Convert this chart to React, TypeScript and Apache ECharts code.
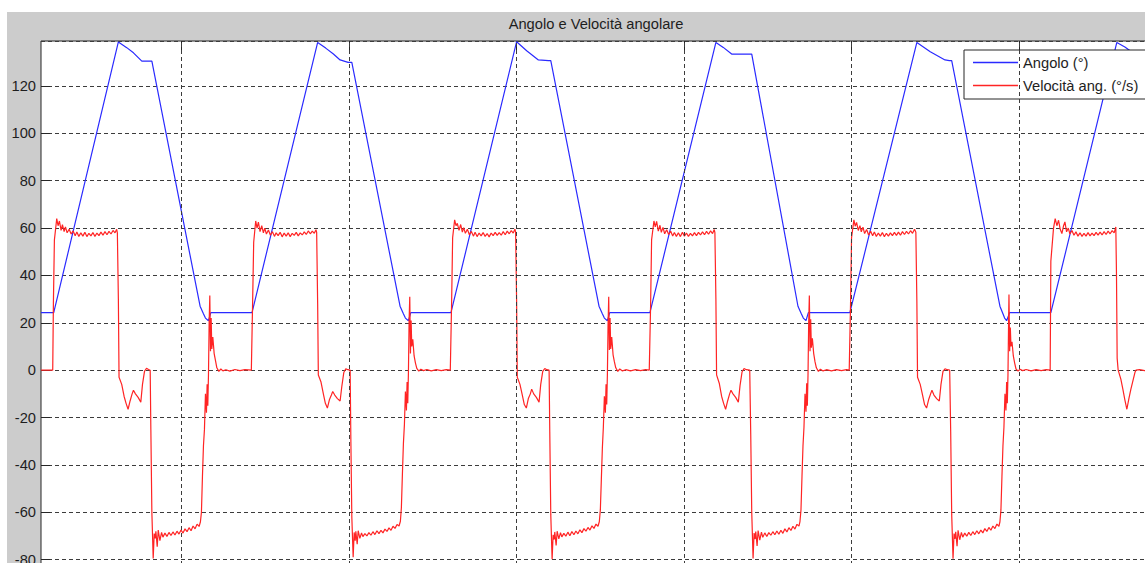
import { useEffect, useRef } from "react";
import * as echarts from "echarts";

const TITOLO = "Angolo e Velocità angolare";
const NOME_ANGOLO = "Angolo (°)";
const NOME_VELOCITA = "Velocità ang. (°/s)";

// Asse dei tempi [s] e griglia verticale
const T_MIN = 0.8;
const T_MAX = 34.0;
const GRIGLIA_T = [5, 10, 15, 20, 25, 30];

// Asse verticale
const Y_MIN = -100;
const Y_MAX = 139;
const Y_PASSO = 20;

// Angolo [°] nel tempo
const angolo: [number, number][] = [
  [0.8, 24.3], [1.18, 24.3], [3.11, 138.6], [3.36, 136.2], [3.56, 134], [3.81, 130.5], [4.11, 130.5],
  [5.55, 27], [5.65, 23.8], [5.71, 22], [5.8, 20.9], [5.87, 24.3],
  [7.1, 24.3], [9.06, 138.4], [9.3, 136], [9.53, 133.5], [9.73, 131], [9.97, 130], [10.08, 130],
  [11.52, 27], [11.62, 23.8], [11.68, 22], [11.77, 20.9], [11.84, 24.3],
  [13.04, 24.3], [15.0, 138.7], [15.3, 134.9], [15.65, 131], [15.95, 130.7], [16.02, 130.7],
  [17.46, 27], [17.56, 23.8], [17.62, 22], [17.71, 20.9], [17.78, 24.3],
  [18.98, 24.3], [20.95, 138.4], [21.17, 136.3], [21.42, 133.5], [21.95, 133.5], [22.02, 133.5],
  [23.4, 27], [23.5, 23.8], [23.56, 22], [23.64, 20.9], [23.71, 24.3],
  [24.95, 24.3], [26.95, 138.4], [27.35, 134.5], [27.79, 131], [27.92, 130.7], [27.99, 130.7],
  [29.43, 27], [29.52, 23.8], [29.57, 22], [29.63, 20.9], [29.72, 24.3],
  [30.95, 24.3], [32.92, 138.4], [33.16, 136.5], [33.4, 134], [33.64, 131], [33.94, 130.5], [34.0, 130.5],
];

// Velocità angolare [°/s], un ciclo per array
const velCiclo1: [number, number][] = [
  [0.8, 0], [1.15, 0], [1.17, 28], [1.2, 55], [1.27, 64], [1.31, 61], [1.35, 63], [1.4, 59], [1.44, 61.5],
  [1.49, 58.5], [1.53, 60.5], [1.58, 58], [1.64, 59.5], [1.7, 57.5], [1.76, 58.8], [1.82, 56.8], [1.87, 58.3],
  [1.93, 56.5], [1.99, 58], [2.05, 56.6], [2.11, 58.2], [2.17, 56.4], [2.23, 57.8], [2.29, 56.7], [2.35, 58.1],
  [2.41, 56.5], [2.47, 57.9], [2.53, 56.8], [2.59, 58.3], [2.65, 57], [2.71, 58.5], [2.77, 57.2], [2.83, 58.6],
  [2.89, 57.5], [2.95, 59], [3.01, 58], [3.06, 59.5], [3.08, 58], [3.11, 30], [3.13, -3], [3.21, -6],
  [3.28, -11], [3.34, -14], [3.4, -16.5], [3.46, -13], [3.52, -10], [3.56, -8.5], [3.62, -10], [3.7, -11.5],
  [3.78, -13.5], [3.83, -6], [3.89, -0.5], [3.95, 0.8], [4.01, 0.3], [4.06, 0], [4.08, -25], [4.11, -60],
  [4.15, -79.5], [4.18, -69], [4.21, -71], [4.23, -68], [4.27, -74.5], [4.3, -67.5], [4.35, -72], [4.4, -68.5],
  [4.44, -70.5], [4.5, -68.8], [4.56, -70.2], [4.62, -68.5], [4.68, -69.8], [4.74, -68.3], [4.8, -69.6],
  [4.86, -68], [4.92, -69.2], [4.98, -67.5], [5.04, -68.8], [5.1, -67], [5.16, -68.2], [5.22, -66.5],
  [5.28, -67.8], [5.34, -65.8], [5.4, -67], [5.46, -65], [5.52, -66], [5.56, -64], [5.59, -60], [5.62, -45],
  [5.65, -32], [5.68, -25], [5.71, -10], [5.74, -18], [5.76, -6], [5.78, -15], [5.8, -2], [5.82, 20],
  [5.84, 31.5], [5.86, 8], [5.88, 22], [5.9, 9], [5.93, 14], [5.97, 7], [6.01, 4], [6.05, 1], [6.11, -0.5],
  [6.17, 0.5], [6.23, -0.3], [6.32, 0.2], [6.44, -0.4], [6.59, 0.3], [6.74, -0.2], [6.89, 0.2], [7.08, 0],
];

const velCiclo2: [number, number][] = [
  [7.1, 0], [7.12, 30], [7.15, 54], [7.21, 63], [7.25, 60], [7.29, 62.5], [7.34, 58.5], [7.39, 61], [7.44, 58],
  [7.48, 60], [7.53, 57.5], [7.59, 59.2], [7.65, 57], [7.71, 58.5], [7.77, 56.5], [7.82, 58], [7.88, 56.8],
  [7.94, 58.2], [8.0, 56.3], [8.06, 57.9], [8.12, 56.6], [8.18, 58], [8.24, 56.4], [8.3, 57.8], [8.36, 56.9],
  [8.42, 58.2], [8.48, 56.7], [8.54, 58], [8.6, 57.1], [8.66, 58.4], [8.72, 57.3], [8.78, 58.8], [8.84, 57.6],
  [8.9, 58.7], [8.96, 57.8], [9.01, 59.3], [9.03, 58.2], [9.06, 28], [9.08, -2], [9.16, -5], [9.23, -10],
  [9.29, -14], [9.35, -16], [9.41, -12.5], [9.47, -10.5], [9.51, -9], [9.57, -10.5], [9.65, -12], [9.73, -13],
  [9.78, -7], [9.84, -1], [9.9, 0.6], [9.96, 0.2], [10.03, 0], [10.05, -28], [10.08, -62], [10.12, -79],
  [10.15, -68.5], [10.18, -72], [10.2, -68], [10.24, -73.5], [10.27, -67.8], [10.32, -71], [10.37, -68.7],
  [10.41, -70.3], [10.47, -69], [10.53, -70], [10.59, -68.6], [10.65, -69.7], [10.71, -68.2], [10.77, -69.4],
  [10.83, -67.8], [10.89, -69], [10.95, -67.6], [11.01, -68.7], [11.07, -67.1], [11.13, -68.1], [11.19, -66.6],
  [11.25, -67.6], [11.31, -65.9], [11.37, -66.8], [11.43, -65.2], [11.49, -65.8], [11.53, -63.8], [11.56, -58],
  [11.59, -44], [11.62, -31], [11.65, -23], [11.68, -9], [11.71, -17], [11.73, -5], [11.75, -14], [11.77, -1],
  [11.79, 21], [11.81, 31], [11.83, 7], [11.85, 21], [11.87, 10], [11.9, 13], [11.94, 6], [11.98, 3],
  [12.02, 0.8], [12.08, -0.4], [12.14, 0.4], [12.22, -0.2], [12.32, 0.3], [12.45, -0.3], [12.6, 0.2],
  [12.75, -0.2], [12.9, 0.2], [13.02, 0],
];

const velCiclo3: [number, number][] = [
  [13.04, 0], [13.06, 29], [13.09, 56], [13.15, 63.5], [13.19, 61], [13.23, 62], [13.28, 59], [13.33, 61.5],
  [13.38, 58.3], [13.42, 60.2], [13.47, 57.8], [13.53, 59.5], [13.59, 57.2], [13.65, 58.6], [13.71, 56.6],
  [13.76, 58.2], [13.82, 56.4], [13.88, 57.9], [13.94, 56.7], [14.0, 58.1], [14.06, 56.5], [14.12, 57.7],
  [14.18, 56.3], [14.24, 57.9], [14.3, 56.8], [14.36, 58.2], [14.42, 56.9], [14.48, 58.1], [14.54, 57],
  [14.6, 58.5], [14.66, 57.2], [14.72, 58.7], [14.78, 57.6], [14.84, 58.9], [14.9, 57.9], [14.95, 59.6],
  [14.97, 58.3], [15.0, 29], [15.02, -3], [15.1, -6], [15.17, -10.5], [15.23, -14.5], [15.29, -16], [15.35, -12],
  [15.41, -10], [15.45, -8], [15.51, -10], [15.59, -11.5], [15.67, -13.5], [15.72, -6], [15.78, -0.5],
  [15.84, 0.7], [15.9, 0.2], [15.97, 0], [15.99, -26], [16.02, -61], [16.06, -79.8], [16.09, -69.5],
  [16.12, -71.5], [16.14, -68.3], [16.18, -74], [16.21, -68], [16.26, -71.2], [16.31, -68.6], [16.35, -70.4],
  [16.41, -68.9], [16.47, -70.1], [16.53, -68.4], [16.59, -69.9], [16.65, -68.1], [16.71, -69.5], [16.77, -67.9],
  [16.83, -69.1], [16.89, -67.4], [16.95, -68.6], [17.01, -66.9], [17.07, -68], [17.13, -66.4], [17.19, -67.5],
  [17.25, -65.7], [17.31, -66.8], [17.37, -65], [17.43, -65.9], [17.47, -63.9], [17.5, -59], [17.53, -46],
  [17.56, -33], [17.59, -24], [17.62, -11], [17.65, -18], [17.67, -6], [17.69, -14.5], [17.71, -2], [17.73, 19],
  [17.75, 31], [17.77, 8.5], [17.79, 22], [17.81, 9], [17.84, 14], [17.88, 6.5], [17.92, 3.5], [17.96, 1],
  [18.02, -0.5], [18.08, 0.5], [18.16, -0.3], [18.26, 0.2], [18.4, -0.3], [18.55, 0.2], [18.7, -0.2],
  [18.85, 0.2], [18.96, 0],
];

const velCiclo4: [number, number][] = [
  [18.98, 0], [19.0, 27], [19.03, 55], [19.1, 63], [19.14, 60.5], [19.18, 62.8], [19.23, 58.7], [19.28, 61.2],
  [19.32, 58.2], [19.37, 60.3], [19.42, 57.6], [19.48, 59.3], [19.54, 57.3], [19.6, 58.7], [19.66, 56.7],
  [19.71, 58.1], [19.77, 56.5], [19.83, 58], [19.89, 56.4], [19.95, 58.2], [20.01, 56.6], [20.07, 57.9],
  [20.13, 56.5], [20.19, 57.8], [20.25, 56.7], [20.31, 58.1], [20.37, 56.8], [20.43, 58.2], [20.49, 57.1],
  [20.55, 58.4], [20.61, 57.2], [20.67, 58.6], [20.73, 57.4], [20.79, 58.8], [20.85, 57.7], [20.9, 59.4],
  [20.92, 58.1], [20.95, 30], [20.97, -2], [21.05, -5.5], [21.12, -11], [21.18, -14], [21.24, -16.5],
  [21.3, -13], [21.36, -10], [21.4, -8.5], [21.46, -10], [21.54, -11.5], [21.62, -13.5], [21.67, -6.5],
  [21.73, -0.8], [21.79, 0.7], [21.86, 0.2], [21.96, 0], [21.99, -27], [22.02, -60], [22.06, -79.5],
  [22.09, -68.8], [22.12, -71.3], [22.14, -68.1], [22.18, -74.2], [22.21, -67.7], [22.26, -71.8], [22.31, -68.4],
  [22.35, -70.6], [22.41, -68.7], [22.47, -70.2], [22.53, -68.6], [22.59, -69.7], [22.65, -68.2], [22.71, -69.5],
  [22.77, -67.9], [22.83, -69.3], [22.89, -67.6], [22.95, -68.9], [23.01, -67], [23.07, -68.3], [23.13, -66.5],
  [23.19, -67.7], [23.25, -65.9], [23.31, -67.1], [23.37, -65.1], [23.43, -65.8], [23.46, -63.9], [23.49, -59],
  [23.52, -45], [23.55, -32], [23.58, -24], [23.61, -10], [23.64, -17.5], [23.66, -5.5], [23.68, -15],
  [23.7, -2], [23.72, 20], [23.74, 31.5], [23.76, 8], [23.78, 21.5], [23.8, 9.5], [23.83, 13.5], [23.87, 7],
  [23.91, 3.5], [23.95, 1], [24.01, -0.5], [24.07, 0.4], [24.15, -0.3], [24.25, 0.2], [24.4, -0.3],
  [24.55, 0.2], [24.7, -0.2], [24.85, 0.2], [24.93, 0],
];

const velCiclo5: [number, number][] = [
  [24.95, 0], [24.97, 28], [25.0, 56], [25.07, 63.5], [25.11, 60.8], [25.15, 62.4], [25.2, 59], [25.25, 61],
  [25.29, 58.4], [25.34, 60.4], [25.39, 57.7], [25.45, 59.4], [25.51, 57.1], [25.57, 58.7], [25.63, 56.8],
  [25.68, 58.3], [25.74, 56.5], [25.8, 57.9], [25.86, 56.6], [25.92, 58.1], [25.98, 56.4], [26.04, 57.8],
  [26.1, 56.6], [26.16, 58], [26.22, 56.8], [26.28, 58.2], [26.34, 56.9], [26.4, 58.3], [26.46, 57],
  [26.52, 58.5], [26.58, 57.3], [26.64, 58.6], [26.7, 57.5], [26.76, 58.9], [26.82, 57.8], [26.88, 59.5],
  [26.92, 58.2], [26.95, 29], [26.97, -3], [27.05, -6], [27.12, -10.5], [27.18, -14.5], [27.24, -16],
  [27.3, -12.5], [27.36, -10], [27.4, -8.5], [27.46, -10.5], [27.54, -12], [27.62, -13], [27.67, -6],
  [27.73, -0.5], [27.79, 0.6], [27.86, 0.2], [27.93, 0], [27.96, -26], [27.99, -61], [28.03, -79.6],
  [28.06, -69], [28.09, -71.2], [28.11, -68.2], [28.15, -74.3], [28.18, -67.6], [28.23, -71.6], [28.28, -68.5],
  [28.32, -70.5], [28.38, -68.8], [28.44, -70.1], [28.5, -68.5], [28.56, -69.8], [28.62, -68.2], [28.68, -69.4],
  [28.74, -67.8], [28.8, -69.1], [28.86, -67.5], [28.92, -68.7], [28.98, -66.9], [29.04, -68.1], [29.1, -66.4],
  [29.16, -67.6], [29.22, -65.8], [29.28, -66.9], [29.34, -65], [29.4, -65.9], [29.43, -64], [29.46, -59],
  [29.49, -45], [29.52, -32], [29.55, -24], [29.58, -10], [29.61, -17], [29.63, -5], [29.65, -14], [29.67, -2],
  [29.69, 22], [29.7, 32], [29.72, 8], [29.74, 18], [29.76, 10], [29.79, 12], [29.83, 6], [29.87, 3],
  [29.91, 0.5], [29.97, -0.4], [30.03, 0.4], [30.11, -0.2], [30.21, 0.3], [30.36, -0.3], [30.51, 0.2],
  [30.66, -0.2], [30.81, 0.2], [30.93, 0],
];

const velCiclo6: [number, number][] = [
  [30.95, 46], [31.03, 60], [31.08, 64], [31.13, 61], [31.18, 63.3], [31.23, 59.5], [31.28, 57.7], [31.33, 61],
  [31.37, 62.6], [31.42, 58.4], [31.47, 60], [31.52, 57.5], [31.58, 59], [31.64, 57], [31.7, 58.4], [31.76, 56.6],
  [31.82, 58], [31.88, 56.5], [31.94, 57.8], [32.0, 56.6], [32.06, 58.1], [32.12, 56.7], [32.18, 57.9],
  [32.24, 56.8], [32.3, 58.2], [32.36, 57], [32.42, 58.3], [32.48, 57.1], [32.54, 58.5], [32.6, 57.3],
  [32.66, 58.7], [32.72, 57.6], [32.78, 58.9], [32.84, 58], [32.89, 60.5], [32.91, 40], [32.93, 5], [32.96, 0],
  [33.04, -3.8], [33.1, -8], [33.16, -12.5], [33.22, -16.5], [33.28, -12], [33.34, -8], [33.4, -4.5],
  [33.46, -1], [33.49, 0], [33.6, 0.2], [33.75, -0.2], [33.9, 0.1], [34.0, 0],
];

const velocita = [...velCiclo1, ...velCiclo2, ...velCiclo3, ...velCiclo4, ...velCiclo5, ...velCiclo6];

const FONT = "'Liberation Sans', Arial, Helvetica, sans-serif";
const INK = "#1e1e1e";
const BLU = "#2a2aff";
const ROSSO = "#ff2424";
const GRID_DASH = { color: "#3c3c3c", width: 1, type: [4, 3] as number[] };

export default function App() {
  const ref = useRef<HTMLDivElement>(null);

  useEffect(() => {
    if (!ref.current) return;
    const chart = echarts.init(ref.current, undefined, { renderer: "svg" });
    chart.setOption({
      animation: false,
      backgroundColor: "#cccccc",
      graphic: [
        { type: "rect", shape: { x: 0, y: 0, width: 1153, height: 12 }, style: { fill: "#ffffff" }, silent: true },
        { type: "rect", shape: { x: 0, y: 0, width: 7, height: 620 }, style: { fill: "#ffffff" }, silent: true },
        {
          type: "text",
          x: 596,
          y: 24,
          silent: true,
          style: {
            text: TITOLO,
            fill: INK,
            font: `14.7px ${FONT}`,
            textAlign: "center",
            textVerticalAlign: "middle",
          },
        },
      ],
      grid: {
        left: 41,
        top: 41,
        right: 0,
        bottom: 13,
        show: true,
        backgroundColor: "#ffffff",
        borderColor: "#262626",
        borderWidth: 1,
      },
      legend: {
        orient: "vertical",
        left: 964,
        top: 50,
        backgroundColor: "#ffffff",
        borderColor: "#262626",
        borderWidth: 1,
        borderRadius: 0,
        padding: [5, 8, 6, 9],
        itemWidth: 45,
        itemHeight: 1.3,
        itemGap: 8,
        textStyle: { fontFamily: FONT, fontSize: 14.7, color: INK, lineHeight: 14 },
        data: [
          { name: NOME_ANGOLO, icon: "rect", itemStyle: { color: BLU } },
          { name: NOME_VELOCITA, icon: "rect", itemStyle: { color: ROSSO } },
        ],
      },
      xAxis: [
        {
          type: "value",
          position: "bottom",
          min: T_MIN,
          max: T_MAX,
          axisLine: { show: false },
          axisTick: { show: false },
          axisLabel: { show: false },
          splitLine: { show: false },
        },
        {
          type: "value",
          position: "top",
          min: T_MIN,
          max: T_MAX,
          axisLine: { show: false },
          axisTick: { show: true, inside: true, length: 9, customValues: GRIGLIA_T, lineStyle: { color: "#262626" } },
          axisLabel: { show: false, customValues: GRIGLIA_T },
          splitLine: { show: false },
        },
      ],
      yAxis: {
        type: "value",
        min: Y_MIN,
        max: Y_MAX,
        interval: Y_PASSO,
        axisLine: { show: false },
        axisTick: { show: true, inside: true, length: 9, lineStyle: { color: "#262626" } },
        axisLabel: {
          margin: 5,
          color: INK,
          fontFamily: FONT,
          fontSize: 14.7,
          showMaxLabel: false,
        },
        splitLine: { show: true, lineStyle: GRID_DASH },
      },
      series: [
        {
          name: "griglia",
          type: "line",
          data: [],
          z: 1,
          silent: true,
          markLine: {
            silent: true,
            symbol: ["none", "none"],
            label: { show: false },
            lineStyle: GRID_DASH,
            emphasis: { disabled: true },
            data: GRIGLIA_T.map((t) => ({ xAxis: t })),
          },
        },
        {
          name: NOME_ANGOLO,
          type: "line",
          data: angolo,
          symbol: "none",
          showSymbol: false,
          z: 3,
          lineStyle: { color: BLU, width: 1.2 },
          itemStyle: { color: BLU },
        },
        {
          name: NOME_VELOCITA,
          type: "line",
          data: velocita,
          symbol: "none",
          showSymbol: false,
          z: 4,
          lineStyle: { color: ROSSO, width: 1.2 },
          itemStyle: { color: ROSSO },
        },
      ],
    });
    return () => chart.dispose();
  }, []);

  return (
    <div
      style={{
        position: "absolute",
        left: 0,
        top: 0,
        width: 1145,
        height: 563,
        overflow: "hidden",
        background: "#ffffff",
      }}
    >
      <div ref={ref} style={{ width: 1153, height: 620 }} />
    </div>
  );
}
